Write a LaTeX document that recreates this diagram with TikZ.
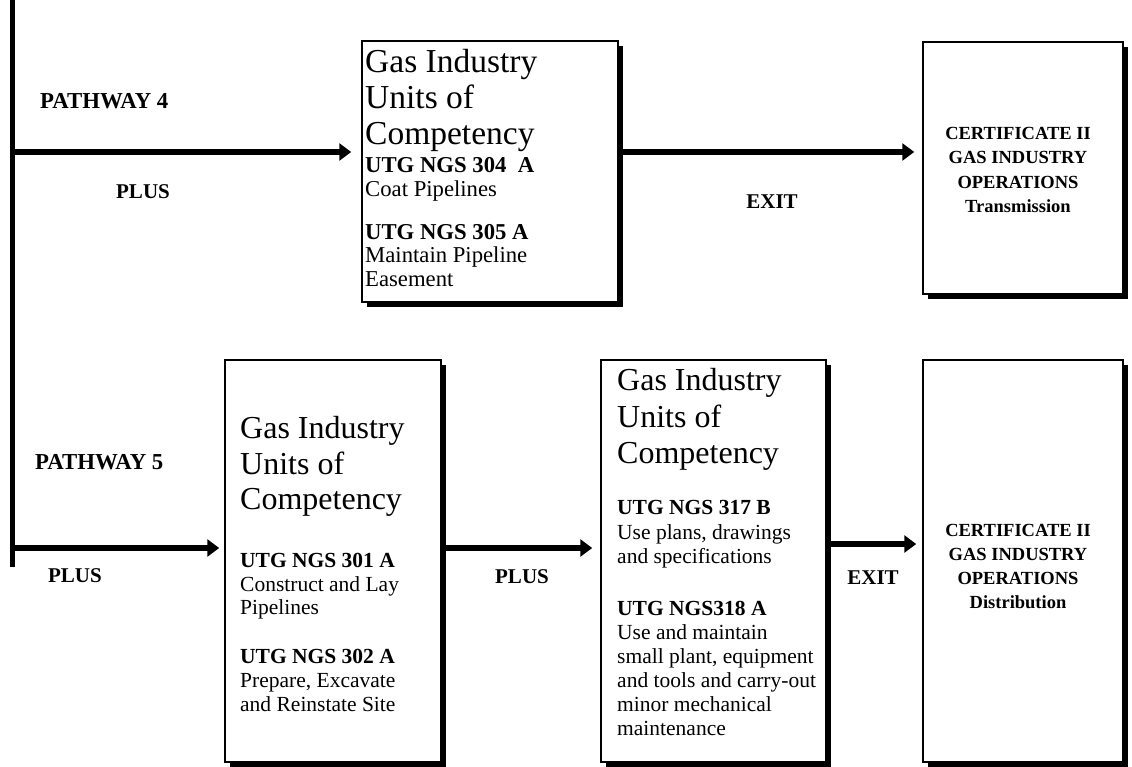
\documentclass[tikz,border=0pt]{standalone}
\usepackage{fontspec}
\setmainfont{Liberation Serif}
\usetikzlibrary{arrows.meta,shadows}
\begin{document}
\begin{tikzpicture}[x=1pt,y=-1pt,
  unitbox/.style={draw, line width=1.5pt, fill=white, rectangle, inner sep=0pt,
    drop shadow={shadow xshift=5pt, shadow yshift=-5pt, fill=black, opacity=1}},
  heading/.style={anchor=base west, inner sep=0pt, font=\fontsize{32}{37}\selectfont},
  unitcode/.style={anchor=base west, inner sep=0pt, font=\fontsize{21.5}{24}\selectfont\bfseries},
  unitname/.style={anchor=base west, inner sep=0pt, font=\fontsize{21.5}{24}\selectfont},
  wideheading/.style={heading, font=\fontsize{33.5}{37}\selectfont},
  widecode/.style={unitcode, font=\fontsize{22.7}{24}\selectfont\bfseries},
  widename/.style={unitname, font=\fontsize{22.7}{24}\selectfont},
  tag/.style={anchor=base, inner sep=0pt, font=\fontsize{21}{24}\selectfont\bfseries},
  pathtag/.style={anchor=base west, inner sep=0pt, font=\fontsize{22.8}{24}\selectfont\bfseries},
  certline/.style={anchor=base, inner sep=0pt, font=\fontsize{18.5}{24}\selectfont\bfseries},
  flow/.style={line width=5.5pt, -{Triangle[length=12pt,width=17pt]}},
]
\useasboundingbox (0,0) rectangle (1132,767);

% boxes
\node[unitbox, minimum width=256pt, minimum height=261pt] (b1) at (490,171.5) {};
\node[unitbox, minimum width=200pt, minimum height=252pt] (c1) at (1023,168) {};
\node[unitbox, minimum width=216pt, minimum height=402pt] (b2) at (333,561) {};
\node[unitbox, minimum width=225pt, minimum height=402pt] (b3) at (713.5,561) {};
\node[unitbox, minimum width=200pt, minimum height=402pt] (c2) at (1023,561) {};

% vertical rail and arrows
\coordinate (railtop) at (12.5,0);
\coordinate (railend) at (12.5,567);
\coordinate (p4) at (12.5,152);
\coordinate (p5) at (12.5,548);
\coordinate (exitrow) at (0,544);
\draw[line width=5.5pt] (railtop) -- (railend);
\draw[flow, shorten >=10pt] (p4) -- (p4 -| b1.west);
\draw[flow, shorten >=8pt] (b1.east |- p4) -- (c1.west |- p4);
\draw[flow, shorten >=5pt] (p5) -- (p5 -| b2.west);
\draw[flow, shorten >=8pt] (b2.east |- p5) -- (b3.west |- p5);
\draw[flow, shorten >=6pt] (b3.east |- exitrow) -- (c2.west |- exitrow);

% side labels
\node[pathtag] (pw4) at (40,109) {PATHWAY 4};
\node[tag] (plus1) at (143,199) {PLUS};
\node[tag] (exit1) at (772,209) {EXIT};
\node[pathtag] (pw5) at (35,469) {PATHWAY 5};
\node[tag] (plus2) at (75,582) {PLUS};
\node[tag] (plus3) at (522,583) {PLUS};
\node[tag] (exit2) at (873,584) {EXIT};

% pathway 4 units
\node[wideheading] (b1h1) at (365,73) {Gas Industry};
\node[wideheading] (b1h2) at (365,109) {Units of};
\node[wideheading] (b1h3) at (365,145) {Competency};
\node[widecode] (b1c1) at (365,173) {UTG NGS 304\hspace{0.5em}A};
\node[widename] (b1n1) at (365,197) {Coat Pipelines};
\node[widecode] (b1c2) at (365,240) {UTG NGS 305 A};
\node[widename] (b1n2) at (365,263) {Maintain Pipeline};
\node[widename] (b1n3) at (365,287) {Easement};

% pathway 5 first units
\node[heading] (b2h1) at (240,438) {Gas Industry};
\node[heading] (b2h2) at (240,474) {Units of};
\node[heading] (b2h3) at (240,509) {Competency};
\node[unitcode] (b2c1) at (240,567) {UTG NGS 301 A};
\node[unitname] (b2n1) at (240,591) {Construct and Lay};
\node[unitname] (b2n2) at (240,614) {Pipelines};
\node[unitcode] (b2c2) at (240,663) {UTG NGS 302 A};
\node[unitname] (b2n3) at (240,687) {Prepare, Excavate};
\node[unitname] (b2n4) at (240,711) {and Reinstate Site};

% pathway 5 further units
\node[heading] (b3h1) at (617,390) {Gas Industry};
\node[heading] (b3h2) at (617,427) {Units of};
\node[heading] (b3h3) at (617,463) {Competency};
\node[unitcode] (b3c1) at (617,514) {UTG NGS 317 B};
\node[unitname] (b3n1) at (617,539) {Use plans, drawings};
\node[unitname] (b3n2) at (617,563) {and specifications};
\node[unitcode] (b3c2) at (617,615) {UTG NGS318 A};
\node[unitname] (b3n3) at (617,639) {Use and maintain};
\node[unitname] (b3n4) at (617,663) {small plant, equipment};
\node[unitname] (b3n5) at (617,687) {and tools and carry-out};
\node[unitname] (b3n6) at (617,711) {minor mechanical};
\node[unitname] (b3n7) at (617,735) {maintenance};

% certificates
\node[certline] (c1l1) at (1018,140) {CERTIFICATE II};
\node[certline] (c1l2) at (1018,164) {GAS INDUSTRY};
\node[certline] (c1l3) at (1018,189) {OPERATIONS};
\node[certline] (c1l4) at (1018,213) {Transmission};
\node[certline] (c2l1) at (1018,536) {CERTIFICATE II};
\node[certline] (c2l2) at (1018,560) {GAS INDUSTRY};
\node[certline] (c2l3) at (1018,584) {OPERATIONS};
\node[certline] (c2l4) at (1018,608) {Distribution};
\end{tikzpicture}
\end{document}
